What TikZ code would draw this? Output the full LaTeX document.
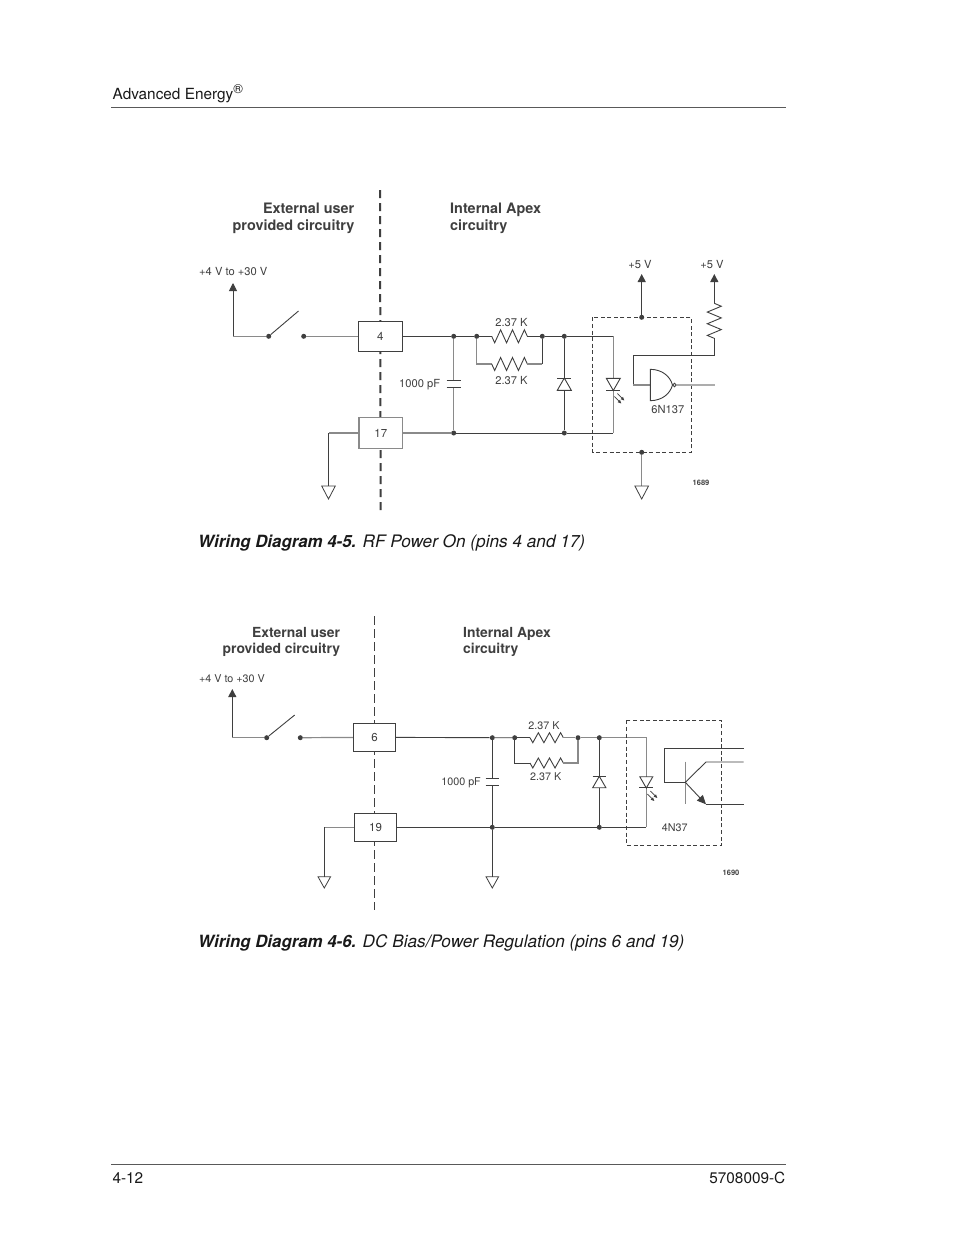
\documentclass[tikz,border=0pt]{standalone}
\usepackage{fontspec}
\setmainfont{TeX Gyre Heros}
\usetikzlibrary{arrows.meta}
\definecolor{ink}{HTML}{3F3F3F}
\definecolor{pale}{HTML}{8A8A8A}
\tikzset{
  x=1pt,y=-1pt,
  wire/.style={draw=ink,line width=0.9pt,line join=miter},
  palewire/.style={draw=pale,line width=1.2pt},
  up/.style={wire,-{Triangle[length=8pt,width=8pt]}},
  dot/.style={circle,fill=ink,draw=none,inner sep=0pt,minimum size=5pt},
  pin/.style={draw=ink,line width=1pt,fill=white,inner sep=0pt,font=\fontsize{11.5pt}{12pt}\selectfont,text=ink},
  palepin/.style={pin,draw=pale,line width=1.3pt},
  bigdash/.style={draw=ink,line width=2pt,dash pattern=on 8pt off 5pt},
  thindash/.style={draw=ink,line width=1pt,dash pattern=on 9pt off 4pt},
  boxdash/.style={draw=ink,line width=1pt,dash pattern=on 4pt off 2.6pt},
  head/.style={font=\bfseries\fontsize{14.4pt}{17.6pt}\selectfont,text=ink,inner sep=0pt,align=right,anchor=east},
  heads/.style={font=\bfseries\fontsize{13.9pt}{16pt}\selectfont,text=ink,inner sep=0pt},
  lab/.style={font=\fontsize{11.15pt}{12pt}\selectfont,text=ink,inner sep=0pt},
  labs/.style={font=\fontsize{10.75pt}{12pt}\selectfont,text=ink,inner sep=0pt},
  tag/.style={font=\bfseries\fontsize{7.5pt}{9pt}\selectfont,text=ink,inner sep=0pt},
  body/.style={font=\fontsize{15.35pt}{17pt}\selectfont,text=black!90,inner sep=0pt,anchor=base west},
  caption/.style={font=\itshape\fontsize{17.2pt}{18pt}\selectfont,text=black!90,inner sep=0pt,anchor=base west},
  rule/.style={draw=black!65,line width=0.8pt},
}
\newcommand{\capbold}[1]{{\bfseries\fontsize{16.85pt}{18pt}\selectfont #1}}
\newcommand{\zigh}[3]{\draw[wire] (#1) -- ++({#2},{#3}) -- ++({2*#2},{-2*#3}) -- ++({2*#2},{2*#3}) -- ++({2*#2},{-2*#3}) -- ++({2*#2},{2*#3}) -- ++({2*#2},{-2*#3}) -- ++({#2},{#3});}
\newcommand{\zigv}[3]{\draw[wire] (#1) -- ++({#3},{#2}) -- ++({-2*#3},{2*#2}) -- ++({2*#3},{2*#2}) -- ++({-2*#3},{2*#2}) -- ++({2*#3},{2*#2}) -- ++({-2*#3},{2*#2}) -- ++({#3},{#2});}
\newcommand{\gnd}[3]{\draw[wire,line width=0.8pt] (#1) ++({-#2},0) -- ++({2*#2},0) -- ++({-#2},{#3}) -- cycle;}
\newcommand{\ledrays}[1]{
  \draw[wire,line width=0.7pt,-{Triangle[length=3.5pt,width=3pt]}] (#1) ++(4,3) -- ++(7,7);
  \draw[wire,line width=0.7pt,-{Triangle[length=3.5pt,width=3pt]}] (#1) ++(1,6) -- ++(7,7);
}
\begin{document}
\begin{tikzpicture}
\useasboundingbox (0,0) rectangle (954,1235);
\fill[white] (0,0) rectangle (954,1235);

% page furniture
\node[body] (hdr) at (112.5,99) {Advanced Energy\raisebox{6pt}{\fontsize{13pt}{14pt}\selectfont ®}};
\coordinate (rt1) at (111,107); \coordinate (rt2) at (786,107);
\draw[rule] (rt1) -- (rt2);
\coordinate (rb1) at (111,1164.3); \coordinate (rb2) at (786,1164.3);
\draw[rule] (rb1) -- (rb2);
\node[body] (pg) at (112.3,1183) {4-12};
\node[body,anchor=base east] (doc) at (785.5,1183) {5708009-C};
\node[caption] (cap1) at (198,547) {\capbold{Wiring Diagram 4-5.} RF Power On (pins 4 and 17)};
\node[caption] (cap2) at (198,947) {\capbold{Wiring Diagram 4-6.} DC Bias/Power Regulation (pins 6 and 19)};

%%%%%%%%%% Diagram 1
\coordinate (a1) at (380,190); \coordinate (a2) at (380.7,512);
\draw[bigdash] (a1) -- (a2);
\node[head] (ext1) at (354.5,218.5) {External user\\provided circuitry};
\node[head,align=left,anchor=west] (int1) at (450,218.5) {Internal Apex\\circuitry};
\node[lab,anchor=west] (vin1) at (199,272) {+4 V to +30 V};

\node[pin,minimum width=44pt,minimum height=30pt] (p4) at (380.3,336.3) {4};
\node[palepin,minimum width=43.5pt,minimum height=31pt] (p17) at (380.8,433) {17};

\coordinate (vt1) at (233,283); \coordinate (vc1) at (233,336.3);
\node[dot] (s1) at (268.7,336.3) {};
\node[dot] (s2) at (303.7,336.3) {};
\coordinate (sw1) at (298.5,311);
\draw[up] (vc1) -- (vt1);
\draw[palewire] (vc1) -- (s1);
\draw[wire] (s1) -- (sw1);
\draw[palewire] (s2) -- (p4);

\coordinate (g1) at (328.5,433); \coordinate (g1b) at (328.5,486);
\draw[palewire] (p17) -- (g1);
\draw[wire] (g1) -- (g1b);
\gnd{g1b}{6.8}{13}

\node[dot] (n1) at (453.7,336.3) {};
\node[dot] (n2) at (476.7,336.3) {};
\node[dot] (n3) at (542.3,336.3) {};
\node[dot] (n4) at (564.3,336.3) {};
\node[dot] (m1) at (453.7,433) {};
\node[dot] (m4) at (564.3,433) {};
\draw[wire] (p4) -- (n1) -- (n2);
\draw[wire] (n3) -- (n4);

\coordinate (r1a) at (491.7,336.3); \coordinate (r1b) at (527.3,336.3);
\draw[wire] (n2) -- (r1a); \zigh{r1a}{2.97}{6.5} \draw[wire] (r1b) -- (n3);
\coordinate (r2c) at (476.7,364); \coordinate (r2a) at (491.7,364); \coordinate (r2b) at (527.3,364); \coordinate (r2d) at (542.3,364);
\draw[palewire] (n2) -- (r2c) -- (r2a);
\zigh{r2a}{2.97}{6.5}
\draw[palewire] (r2b) -- (r2d);
\draw[wire] (r2d) -- (n3);
\node[lab] (rl1) at (511.5,323) {2.37 K};
\node[lab] (rl2) at (511.5,380.5) {2.37 K};

% capacitor
\coordinate (c1a) at (453.7,380.7); \coordinate (c1b) at (453.7,387.3);
\draw[palewire] (n1) -- (c1a);
\draw[palewire] (c1b) -- (m1);
\draw[wire] (446.7,380.7) -- (460.7,380.7);
\draw[wire] (446.7,387.3) -- (460.7,387.3);
\node[lab,anchor=east] (cl1) at (440.3,384.5) {1000 pF};
\draw[palewire] (p17) -- (m1);
\draw[wire] (m1) -- (m4);

% clamp diode
\coordinate (d1t) at (564.3,378); \coordinate (d1b) at (564.3,390.3);
\draw[wire] (n4) -- (d1t);
\draw[wire] (d1b) -- (m4);
\draw[wire] (557.3,378) -- (571.3,378);
\draw[wire] (564.3,378) -- (571.3,390.3) -- (557.3,390.3) -- cycle;

% opto LED
\coordinate (l1c) at (613.3,336.3); \coordinate (l1t) at (613.3,378.3);
\coordinate (l1b) at (613.3,390.5); \coordinate (l1d) at (613.3,433);
\draw[wire] (n4) -- (l1c);
\draw[palewire] (l1c) -- (l1t);
\draw[palewire] (l1b) -- (l1d);
\draw[wire] (m4) -- (l1d);
\draw[wire] (606.3,378.3) -- (620.3,378.3) -- (613.3,390.5) -- cycle;
\draw[wire] (606.3,390.6) -- (620.3,390.6);
\ledrays{l1b}

% dashed package
\draw[boxdash] (592.7,317.3) rectangle (691.3,452.3);
\node[dot] (o1) at (641.7,317.3) {};
\node[dot] (o2) at (641.7,452.3) {};
\coordinate (v5a) at (641.7,274);
\draw[up] (o1) -- (v5a);
\node[lab] (v5al) at (640,265) {+5 V};
\coordinate (g2) at (641.7,486);
\draw[palewire] (o2) -- (g2);
\gnd{g2}{6.8}{13}
\node[tag] (t1) at (701,483.3) {1689};

% pull-up and gate
\coordinate (v5b) at (714.3,274); \coordinate (r3a) at (714.3,303.3); \coordinate (r3b) at (714.3,338.3);
\coordinate (w1) at (714.3,355); \coordinate (w2) at (633,355); \coordinate (w3) at (633,385); \coordinate (w4) at (650.3,385);
\draw[up] (r3a) -- (v5b);
\zigv{r3a}{2.92}{7}
\draw[wire] (r3b) -- (w1) -- (w2) -- (w3);
\draw[palewire] (w3) -- (w4);
\node[lab] (v5bl) at (712,265) {+5 V};
\draw[wire,fill=white] (650.3,369.3) -- (650.3,400.7) .. controls (662,400.5) and (670,394) .. (672.5,385) .. controls (670,376) and (662,369.5) .. (650.3,369.3) -- cycle;
\node[circle,draw=ink,line width=0.8pt,inner sep=0pt,minimum size=3.4pt] (bub) at (674.5,385) {};
\coordinate (gout) at (715,385);
\draw[draw=pale!70,line width=1.3pt] (bub) -- (gout);
\node[lab] (gl) at (667.8,409.5) {6N137};

%%%%%%%%%% Diagram 2
\coordinate (b1) at (374.3,616); \coordinate (b2) at (374.3,910);
\draw[thindash] (b1) -- (b2);
\node[heads,align=right,anchor=east] (ext2) at (340.3,642) {External user\\provided circuitry};
\node[heads,align=left,anchor=west] (int2) at (463,642) {Internal Apex\\circuitry};
\node[labs,anchor=west] (vin2) at (199,678.5) {+4 V to +30 V};

\node[pin,minimum width=42.4pt,minimum height=28pt] (p6) at (374.5,737.3) {6};
\node[pin,minimum width=42.4pt,minimum height=28pt] (p19) at (375.5,827.3) {19};

\coordinate (vt2) at (232.3,689); \coordinate (vc2) at (232.3,737.7);
\node[dot] (q1) at (266.7,737.7) {};
\node[dot] (q2) at (300.3,737.7) {};
\coordinate (sw2) at (294.7,715);
\draw[up] (vc2) -- (vt2);
\draw[palewire] (vc2) -- (q1);
\draw[wire] (q1) -- (sw2);
\draw[palewire] (q2) -- (p6);

\coordinate (g3) at (324.3,827.3); \coordinate (g3b) at (324.3,876.7);
\draw[palewire] (p19) -- (g3);
\draw[wire] (g3) -- (g3b);
\gnd{g3b}{6.3}{11.3}

\node[dot] (k1) at (492.3,737.7) {};
\node[dot] (k2) at (514.7,737.7) {};
\node[dot] (k3) at (578,737.7) {};
\node[dot] (k4) at (599.3,737.7) {};
\node[dot] (j1) at (492.3,827.3) {};
\node[dot] (j4) at (599.3,827.3) {};
\draw[wire] (p6) -- (k1) -- (k2);
\draw[wire] (p19) -- (j1) -- (j4);

\coordinate (r4a) at (530,737.7); \coordinate (r4b) at (563.3,737.7);
\draw[wire] (k2) -- (r4a); \zigh{r4a}{2.78}{5} \draw[palewire] (r4b) -- (k3);
\coordinate (r5c) at (514.7,763); \coordinate (r5a) at (530,763); \coordinate (r5b) at (563.3,763); \coordinate (r5d) at (578,763);
\draw[wire] (k2) -- (r5c) -- (r5a);
\zigh{r5a}{2.78}{5}
\draw[palewire] (r5b) -- (r5d) -- (k3);
\node[labs] (rl3) at (544,726) {2.37 K};
\node[labs] (rl4) at (545.7,776.5) {2.37 K};

\coordinate (c2a) at (492.3,778.7); \coordinate (c2b) at (492.3,785.3);
\draw[wire] (k1) -- (c2a);
\draw[wire] (c2b) -- (j1);
\draw[wire] (485.6,778.7) -- (499,778.7);
\draw[wire] (485.6,785.3) -- (499,785.3);
\node[labs,anchor=east] (cl2) at (481,782.5) {1000 pF};
\coordinate (g4) at (492.3,876.7);
\draw[wire] (j1) -- (g4);
\gnd{g4}{6.3}{11.3}

\coordinate (d2t) at (599.3,776.3); \coordinate (d2b) at (599.3,787.7);
\draw[wire] (k4) -- (d2t);
\draw[wire] (d2b) -- (j4);
\draw[wire] (592.7,776.3) -- (605.9,776.3);
\draw[wire] (599.3,776.3) -- (605.9,787.7) -- (592.7,787.7) -- cycle;

\coordinate (l2c) at (646.3,737.7); \coordinate (l2t) at (646.3,776.7);
\coordinate (l2b) at (646.3,788); \coordinate (l2d) at (646.3,827.3);
\draw[palewire] (k3) -- (k4);
\draw[palewire] (k4) -- (l2c) -- (l2t);
\draw[palewire] (l2b) -- (l2d);
\draw[wire] (j4) -- (l2d);
\draw[wire] (639.8,776.7) -- (652.8,776.7) -- (646.3,788) -- cycle;
\draw[wire] (639.3,787.9) -- (653.3,787.9);
\ledrays{l2b}

\draw[boxdash] (626.7,720.3) rectangle (721.3,845.3);
\node[labs] (ol2) at (674.7,827.3) {4N37};
\node[tag] (t2) at (731,873.3) {1690};

% transistor
\coordinate (tb) at (685.3,782.3);
\coordinate (tc1) at (706,762); \coordinate (te1) at (706,804.3);
\coordinate (tc2) at (743.7,762); \coordinate (te2) at (743.7,804.3);
\coordinate (bb1) at (664.3,782.3); \coordinate (bb2) at (664.3,748.3); \coordinate (bb3) at (743.7,748.3);
\draw[palewire] (685.3,761.7) -- (685.3,804);
\draw[wire] (bb3) -- (bb2) -- (bb1) -- (tb);
\draw[wire] (tb) -- (tc1) -- (tc2);
\draw[wire,-{Triangle[length=9pt,width=8pt]}] (tb) -- (te1);
\draw[wire] (te1) -- (te2);
\end{tikzpicture}
\end{document}
